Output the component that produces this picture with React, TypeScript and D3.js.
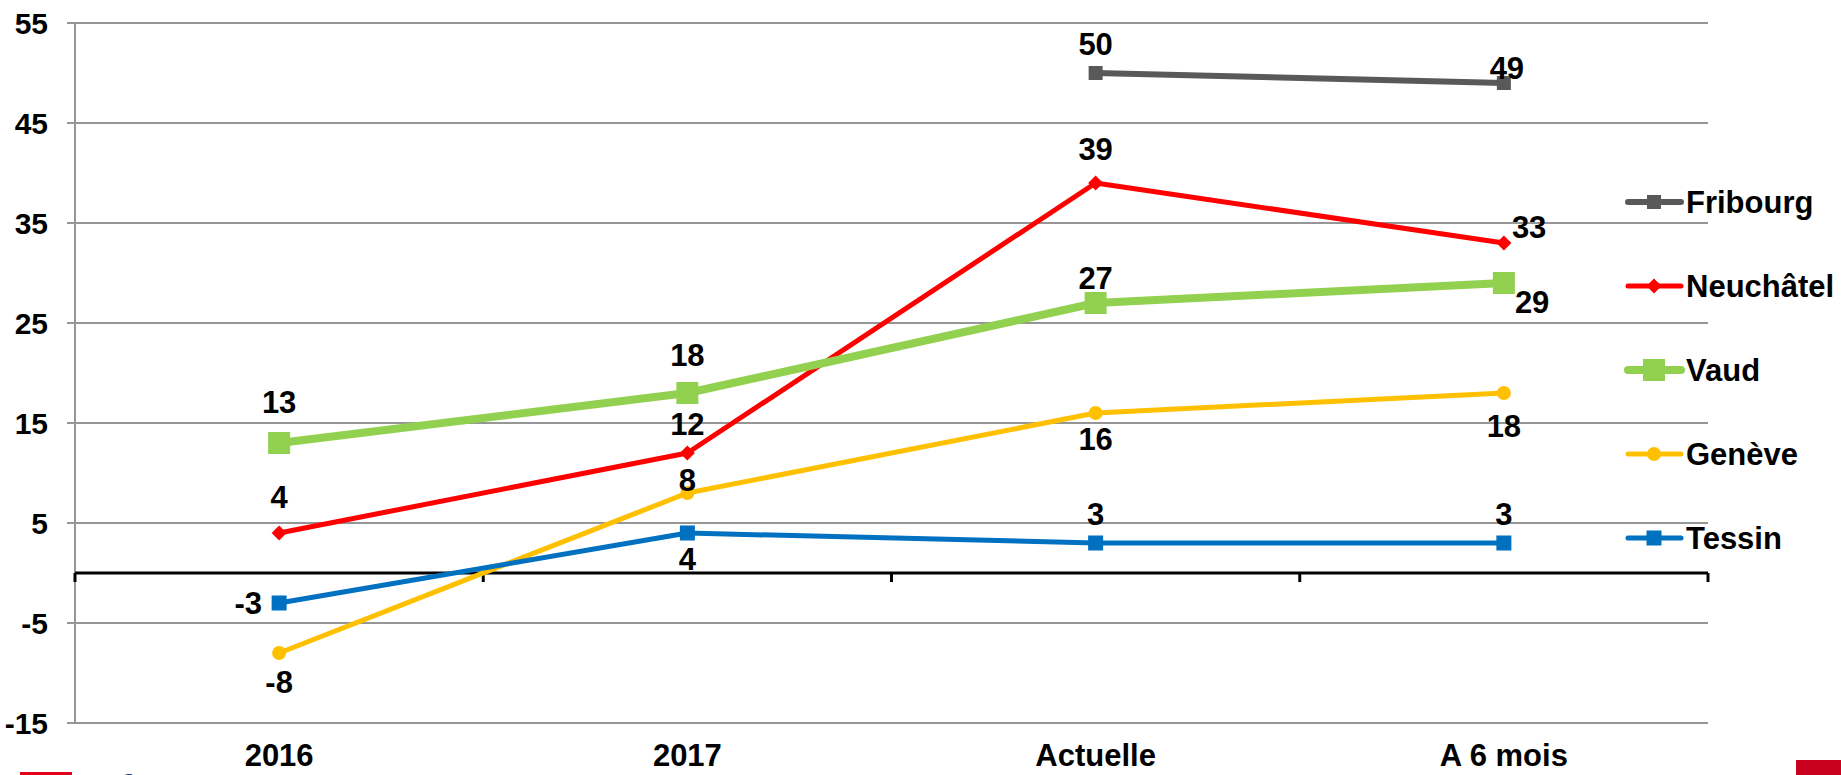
import React from 'react';
import * as d3 from 'd3';

const categories = ['2016', '2017', 'Actuelle', 'A 6 mois'];
const seriesNames = ['Fribourg', 'Neuchâtel', 'Vaud', 'Genève', 'Tessin'];
const fribourg = [null, null, 50, 49];
const neuchatel = [4, 12, 39, 33];
const vaud = [13, 18, 27, 29];
const geneve = [-8, 8, 16, 18];
const tessin = [-3, 4, 3, 3];
const yTicks = [-15, -5, 5, 15, 25, 35, 45, 55];

const W = 1841;
const H = 775;
const margin = { top: 23, right: 133, bottom: 52, left: 75 };
const FONT = '"Liberation Sans", Arial, Helvetica, sans-serif';

type Style = {
  color: string;
  width: number;
  marker: 'square' | 'diamond' | 'circle';
  size: number;
  // label offsets relative to the marker centre: [dx, dy(baseline), anchor]
  labels: ([number, number, string] | null)[];
};

const styles: Record<string, Style> = {
  Fribourg: {
    color: '#595959', width: 6, marker: 'square', size: 14,
    labels: [null, null, [0, -18, 'middle'], [3, -4, 'middle']],
  },
  'Neuchâtel': {
    color: '#FF0000', width: 5, marker: 'diamond', size: 15,
    labels: [[0, -25, 'middle'], [0, -18, 'middle'], [0, -23, 'middle'], [8, -5, 'start']],
  },
  Vaud: {
    color: '#92D050', width: 8, marker: 'square', size: 22,
    labels: [[0, -30, 'middle'], [0, -27, 'middle'], [0, -14, 'middle'], [11, 30, 'start']],
  },
  'Genève': {
    color: '#FFC000', width: 5, marker: 'circle', size: 14,
    labels: [[0, 40, 'middle'], [0, -2, 'middle'], [0, 37, 'middle'], [0, 44, 'middle']],
  },
  Tessin: {
    color: '#0070C0', width: 5, marker: 'square', size: 15,
    labels: [[-17, 11, 'end'], [0, 37, 'middle'], [0, -18, 'middle'], [0, -18, 'middle']],
  },
};

const values: Record<string, (number | null)[]> = {
  Fribourg: fribourg,
  'Neuchâtel': neuchatel,
  Vaud: vaud,
  'Genève': geneve,
  Tessin: tessin,
};

function Marker({ kind, x, y, size, color }: { kind: string; x: number; y: number; size: number; color: string }) {
  if (kind === 'circle') return <circle cx={x} cy={y} r={size / 2} fill={color} />;
  if (kind === 'diamond') {
    const r = size / 2;
    return <path d={`M${x},${y - r}L${x + r},${y}L${x},${y + r}L${x - r},${y}Z`} fill={color} />;
  }
  return <rect x={x - size / 2} y={y - size / 2} width={size} height={size} fill={color} />;
}

export default function App() {
  const x = d3
    .scaleBand<string>()
    .domain(categories)
    .range([margin.left, W - margin.right])
    .padding(0);
  const cx = (c: string) => (x(c) ?? 0) + x.bandwidth() / 2;
  const y = d3.scaleLinear().domain([-15, 55]).range([H - margin.bottom, margin.top]);
  const y0 = y(0);

  const line = d3
    .line<number | null>()
    .defined((d) => d !== null)
    .x((_, i) => cx(categories[i]))
    .y((d) => y(d as number));

  const boundaries = [...categories.map((c) => x(c) ?? 0), W - margin.right];

  return (
    <svg
      width={W}
      height={H}
      style={{ position: 'fixed', left: 0, top: 0, background: '#fff' }}
      fontFamily={FONT}
      fontWeight="bold"
    >
      {/* grid + y ticks */}
      {yTicks.map((t) => (
        <g key={t}>
          <line x1={margin.left - 8} x2={W - margin.right} y1={y(t)} y2={y(t)} stroke="#969696" strokeWidth={2} />
          <text x={48} y={y(t)} dy="0.36em" textAnchor="end" fontSize={30} fill="#000">
            {t}
          </text>
        </g>
      ))}
      <line x1={margin.left} x2={margin.left} y1={margin.top} y2={y(-15)} stroke="#969696" strokeWidth={2} />

      {/* zero axis with category ticks */}
      <line x1={margin.left} x2={W - margin.right} y1={y0} y2={y0} stroke="#000" strokeWidth={3} />
      {boundaries.map((b, i) => (
        <line key={i} x1={b} x2={b} y1={y0} y2={y0 + 9} stroke="#000" strokeWidth={3} />
      ))}

      {/* category labels */}
      {categories.map((c) => (
        <text key={c} x={cx(c)} y={766} textAnchor="middle" fontSize={31} fill="#000">
          {c}
        </text>
      ))}

      {/* series */}
      {seriesNames.map((name) => {
        const s = styles[name];
        const vals = values[name];
        return (
          <g key={name}>
            <path d={line(vals) ?? ''} fill="none" stroke={s.color} strokeWidth={s.width} strokeLinejoin="round" />
            {vals.map((v, i) =>
              v === null ? null : (
                <Marker key={i} kind={s.marker} x={cx(categories[i])} y={y(v)} size={s.size} color={s.color} />
              )
            )}
          </g>
        );
      })}

      {/* data labels */}
      {seriesNames.map((name) => {
        const s = styles[name];
        return values[name].map((v, i) => {
          const off = s.labels[i];
          if (v === null || !off) return null;
          return (
            <text
              key={name + i}
              x={cx(categories[i]) + off[0]}
              y={y(v) + off[1]}
              textAnchor={off[2]}
              fontSize={31}
              fill="#000"
            >
              {v}
            </text>
          );
        });
      })}

      {/* legend */}
      {seriesNames.map((name, i) => {
        const s = styles[name];
        const ly = 202 + i * 84;
        return (
          <g key={name}>
            <line x1={1628} x2={1681} y1={ly} y2={ly} stroke={s.color} strokeWidth={s.width} strokeLinecap="round" />
            <Marker kind={s.marker} x={1654} y={ly} size={s.size} color={s.color} />
            <text x={1686} y={ly} dy="0.36em" fontSize={31} fill="#000">
              {name}
            </text>
          </g>
        );
      })}

      {/* logo fragments at the bottom edge */}
      <rect x={20} y={772} width={52} height={6} fill="#E3001B" />
      <text x={94} y={798} fontSize={34} fill="#1F3A73">
        GfK G
      </text>
      <rect x={1796} y={760} width={45} height={15} fill="#C8001E" />
    </svg>
  );
}
